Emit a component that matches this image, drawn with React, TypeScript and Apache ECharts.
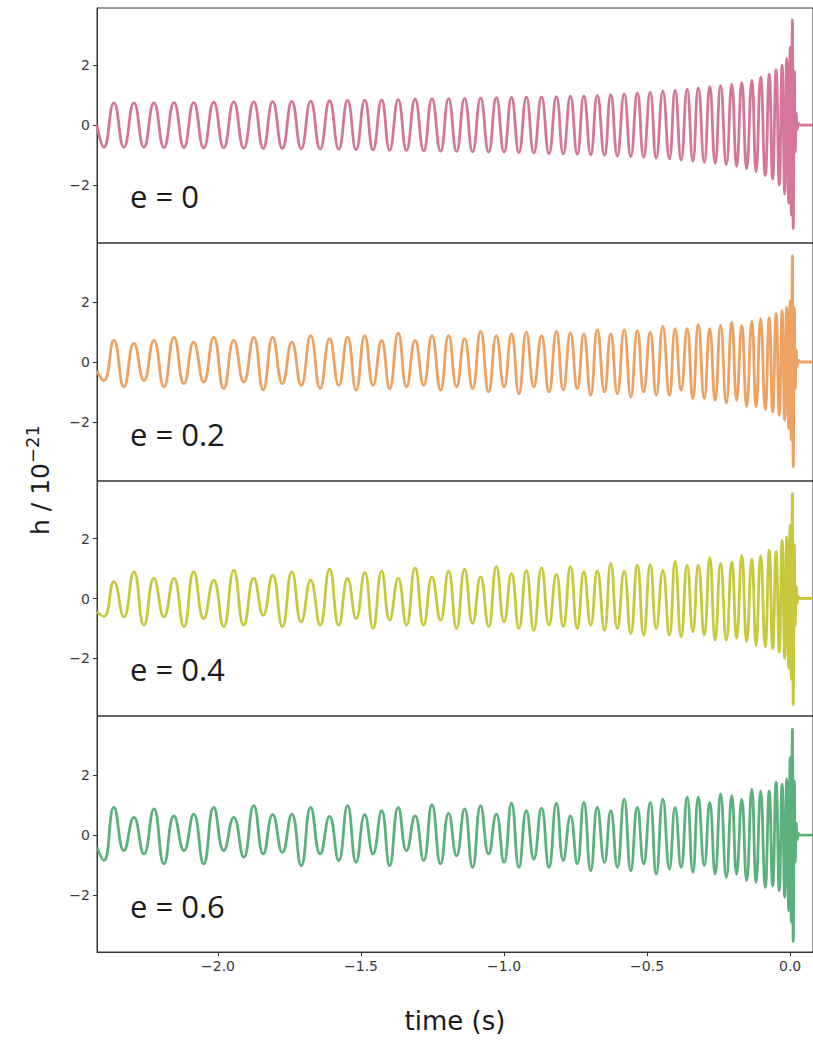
import { useEffect, useRef } from "react";
import * as echarts from "echarts";

// Times (s) of the successive extrema (troughs/peaks)
const extremaTimes = [
  -2.423, -2.399, -2.364, -2.329, -2.294, -2.259, -2.224, -2.189, -2.154, -2.119,
  -2.085, -2.05, -2.015, -1.98, -1.945, -1.91, -1.875, -1.842, -1.809, -1.775,
  -1.742, -1.709, -1.676, -1.643, -1.61, -1.578, -1.547, -1.517, -1.487, -1.458,
  -1.428, -1.4, -1.37, -1.341, -1.311, -1.281, -1.252, -1.222, -1.194, -1.166,
  -1.138, -1.11, -1.082, -1.054, -1.027, -1.0, -0.974, -0.948, -0.922, -0.896,
  -0.869, -0.843, -0.817, -0.793, -0.768, -0.744, -0.721, -0.697, -0.674, -0.649,
  -0.627, -0.604, -0.58, -0.557, -0.534, -0.512, -0.489, -0.468, -0.445, -0.422,
  -0.402, -0.381, -0.36, -0.34, -0.321, -0.3, -0.281, -0.262, -0.243, -0.223,
  -0.204, -0.187, -0.169, -0.152, -0.134, -0.119, -0.103, -0.087, -0.073, -0.061,
  -0.049, -0.038, -0.028, -0.019, -0.012, -0.005, 0.0, 0.004, 0.008, 0.011,
  0.015, 0.018, 0.022, 0.025, 0.03, 0.035, 0.08,
];

// h / 1e-21 at those extrema, one list per eccentricity
const e0Values = [
  0, -0.74, 0.74, -0.74, 0.74, -0.74, 0.74, -0.75, 0.75, -0.75,
  0.75, -0.76, 0.76, -0.76, 0.77, -0.77, 0.77, -0.78, 0.78, -0.78,
  0.79, -0.79, 0.8, -0.8, 0.81, -0.81, 0.82, -0.82, 0.83, -0.83,
  0.84, -0.84, 0.85, -0.85, 0.86, -0.86, 0.87, -0.87, 0.88, -0.88,
  0.89, -0.89, 0.9, -0.9, 0.91, -0.91, 0.92, -0.92, 0.93, -0.93,
  0.94, -0.95, 0.95, -0.96, 0.96, -0.97, 0.97, -0.99, 0.99, -1.01,
  1.01, -1.03, 1.04, -1.05, 1.07, -1.07, 1.1, -1.1, 1.13, -1.13,
  1.16, -1.17, 1.2, -1.2, 1.24, -1.24, 1.28, -1.28, 1.31, -1.32,
  1.36, -1.38, 1.42, -1.46, 1.5, -1.55, 1.6, -1.68, 1.7, -1.8,
  1.85, -2.0, 2.0, -2.3, 2.22, -2.6, 2.6, -3.0, 3.5, -3.45,
  1.8, -0.9, 0.4, -0.15, 0.05, 0, 0,
];

const e02Values = [
  -0.3, -0.62, 0.72, -0.83, 0.62, -0.62, 0.72, -0.83, 0.82, -0.72,
  0.66, -0.67, 0.82, -0.89, 0.72, -0.67, 0.82, -0.93, 0.82, -0.72,
  0.66, -0.78, 0.88, -0.88, 0.78, -0.78, 0.83, -0.94, 0.88, -0.78,
  0.72, -0.89, 0.96, -0.83, 0.72, -0.78, 0.88, -0.94, 0.88, -0.83,
  0.78, -0.89, 1.02, -1.0, 0.88, -0.83, 0.94, -1.06, 1.0, -0.83,
  0.88, -1.0, 1.02, -0.94, 0.97, -0.89, 0.94, -1.11, 1.08, -1.0,
  0.94, -1.06, 1.08, -1.17, 1.05, -1.0, 1.0, -1.11, 1.19, -1.11,
  1.11, -0.94, 1.11, -1.22, 1.25, -1.22, 1.11, -1.28, 1.22, -1.37,
  1.33, -1.28, 1.22, -1.48, 1.36, -1.5, 1.44, -1.59, 1.48, -1.67,
  1.61, -1.78, 1.72, -1.94, 1.83, -2.22, 2.05, -2.61, 3.55, -3.5,
  1.8, -0.9, 0.4, -0.15, 0.05, 0, 0,
];

const e04Values = [
  -0.45, -0.6, 0.56, -0.61, 0.89, -0.89, 0.67, -0.61, 0.67, -0.94,
  0.89, -0.67, 0.61, -0.94, 0.94, -0.89, 0.67, -0.56, 0.78, -0.94,
  0.89, -0.78, 0.61, -0.89, 0.98, -0.89, 0.67, -0.67, 0.87, -1.0,
  0.91, -0.72, 0.67, -0.89, 1.02, -0.89, 0.72, -0.72, 0.91, -1.0,
  0.98, -0.83, 0.72, -0.94, 1.06, -0.78, 0.83, -1.0, 0.94, -1.06,
  1.02, -0.89, 0.8, -0.94, 1.06, -1.0, 0.89, -0.89, 0.91, -1.06,
  1.17, -1.0, 0.91, -1.17, 1.11, -1.22, 1.13, -1.0, 0.94, -1.22,
  1.24, -1.28, 1.11, -1.11, 1.11, -1.22, 1.36, -1.39, 1.17, -1.39,
  1.22, -1.33, 1.44, -1.44, 1.31, -1.56, 1.42, -1.61, 1.61, -1.67,
  1.56, -1.78, 1.94, -2.0, 2.06, -2.33, 2.44, -2.7, 3.5, -3.55,
  1.8, -0.9, 0.4, -0.15, 0.05, 0, 0,
];

const e06Values = [
  -0.4, -0.85, 0.92, -0.52, 0.59, -0.63, 0.87, -0.96, 0.64, -0.52,
  0.7, -0.96, 0.92, -0.52, 0.59, -0.74, 0.98, -0.63, 0.68, -0.58,
  0.7, -1.02, 0.92, -0.63, 0.62, -0.85, 0.98, -0.91, 0.68, -0.63,
  0.81, -1.02, 0.92, -0.52, 0.64, -0.85, 1.01, -0.96, 0.72, -0.69,
  0.87, -1.08, 0.98, -0.63, 0.7, -0.91, 1.06, -1.08, 0.81, -0.8,
  0.9, -1.08, 1.06, -0.85, 0.64, -0.96, 1.09, -1.19, 0.92, -0.91,
  0.81, -1.08, 1.2, -1.19, 0.92, -0.96, 1.09, -1.3, 1.2, -1.13,
  0.92, -1.08, 1.26, -1.24, 1.26, -1.02, 1.09, -1.3, 1.37, -1.41,
  1.31, -1.3, 1.2, -1.52, 1.53, -1.58, 1.46, -1.74, 1.46, -1.69,
  1.76, -1.85, 1.7, -2.08, 1.87, -2.52, 2.59, -2.9, 3.53, -3.55,
  1.8, -0.9, 0.4, -0.15, 0.05, 0, 0,
];

const panelLabels = ["e = 0", "e = 0.2", "e = 0.4", "e = 0.6"];
const panelSeries = [e0Values, e02Values, e04Values, e06Values];
const panelColors = ["#d4769a", "#eda162", "#c8c83c", "#5cb07c"];
const yTickValues = [-2, 0, 2];
const xTickValues = [-2, -1.5, -1, -0.5, 0];
const xMin = -2.423;
const xMax = 0.08;

const fmt = (v: number, d: number) =>
  (v < 0 ? "\u2212" : "") + Math.abs(v).toFixed(d);

export default function App() {
  const ref = useRef<HTMLDivElement>(null);

  useEffect(() => {
    if (!ref.current) return;
    const chart = echarts.init(ref.current, null, { renderer: "svg" });

    const layout = [
      { top: 8, height: 235, min: -3.93, max: 3.9, labelY: 196 },
      { top: 243, height: 238, min: -3.97, max: 3.97, labelY: 434 },
      { top: 481, height: 235, min: -3.92, max: 3.92, labelY: 669 },
      { top: 716, height: 236, min: -3.9, max: 3.97, labelY: 906 },
    ];

    const grids = layout.map((p) => ({
      left: 97,
      width: 717,
      top: p.top,
      height: p.height,
      show: true,
      borderColor: "#333",
      borderWidth: 1,
      backgroundColor: "transparent",
    }));

    const xAxes = layout.map((_, i) => {
      const bottom = i === layout.length - 1;
      return {
        type: "value",
        gridIndex: i,
        min: xMin,
        max: xMax,
        splitLine: { show: false },
        axisLine: {
          show: bottom,
          onZero: false,
          lineStyle: { color: "#333", width: 1 },
        },
        axisTick: {
          show: bottom,
          length: 4,
          lineStyle: { color: "#333" },
          customValues: xTickValues,
        },
        axisLabel: {
          show: bottom,
          customValues: xTickValues,
          formatter: (v: number) => fmt(v, 1),
          fontFamily: "DejaVu Sans",
          fontSize: 14,
          color: "#3a3a3a",
          margin: 7,
        },
      };
    });

    const yAxes = layout.map((p, i) => ({
      type: "value",
      gridIndex: i,
      min: p.min,
      max: p.max,
      splitLine: { show: false },
      axisLine: {
        show: true,
        onZero: false,
        lineStyle: { color: "#333", width: 1 },
      },
      axisTick: {
        show: true,
        length: 4,
        lineStyle: { color: "#333" },
        customValues: yTickValues,
      },
      axisLabel: {
        customValues: yTickValues,
        formatter: (v: number) => fmt(v, 0),
        fontFamily: "DejaVu Sans",
        fontSize: 14,
        color: "#3a3a3a",
        margin: 7,
      },
    }));

    const series = panelSeries.map((vals, i) => ({
      type: "line",
      xAxisIndex: i,
      yAxisIndex: i,
      data: extremaTimes.map((t, k) => [t, vals[k]]),
      smooth: 0.5,
      showSymbol: false,
      lineStyle: { color: panelColors[i], width: 2.8 },
      itemStyle: { color: panelColors[i] },
    }));

    const graphic: any[] = layout.map((p, i) => ({
      type: "text",
      x: 130,
      y: p.labelY,
      style: {
        text: panelLabels[i],
        font: "31px 'Open Sans'",
        fill: "#1a1a1a",
        align: "left",
        verticalAlign: "middle",
      },
    }));
    graphic.push({
      type: "text",
      x: 38,
      y: 480,
      rotation: Math.PI / 2,
      style: {
        text: "{a|h / 10}{b|\u221221}",
        align: "center",
        verticalAlign: "middle",
        rich: {
          a: {
            fontFamily: "DejaVu Sans",
            fontSize: 25,
            fill: "#1a1a1a",
            color: "#1a1a1a",
            lineHeight: 30,
            verticalAlign: "bottom",
          },
          b: {
            fontFamily: "DejaVu Sans",
            fontSize: 18,
            fill: "#1a1a1a",
            color: "#1a1a1a",
            lineHeight: 30,
            verticalAlign: "top",
          },
        },
      },
    });
    graphic.push({
      type: "text",
      x: 455,
      y: 1021,
      style: {
        text: "time (s)",
        font: "26px 'DejaVu Sans'",
        fill: "#1a1a1a",
        align: "center",
        verticalAlign: "middle",
      },
    });

    chart.setOption({
      animation: false,
      backgroundColor: "#fff",
      grid: grids,
      xAxis: xAxes,
      yAxis: yAxes,
      series,
      graphic,
    });

    return () => chart.dispose();
  }, []);

  return (
    <div
      ref={ref}
      style={{
        position: "absolute",
        left: 0,
        top: 0,
        width: 813,
        height: 1042,
        background: "#fff",
        overflow: "hidden",
      }}
    />
  );
}
